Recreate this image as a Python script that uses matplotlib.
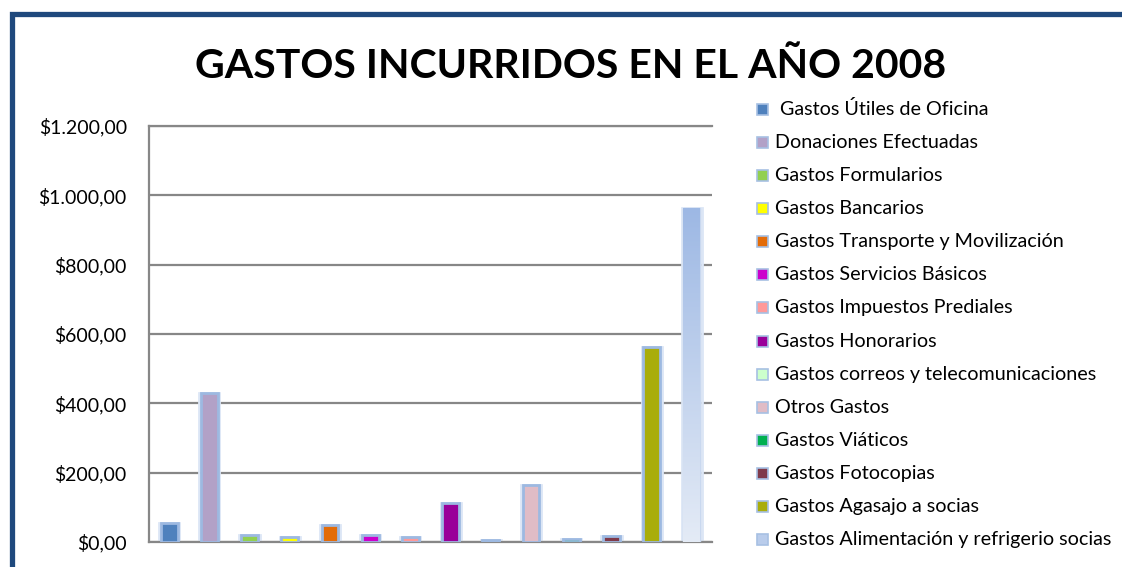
"""
Gastos incurridos en el año 2008 - barras por rubro
"""

import numpy as np
import matplotlib
matplotlib.use('Agg')
import matplotlib.pyplot as plt
from matplotlib.patches import Rectangle

# ----data-----
rubros = ['Gastos Útiles de Oficina', 'Donaciones Efectuadas', 'Gastos Formularios',
          'Gastos Bancarios', 'Gastos Transporte y Movilización',
          'Gastos Servicios Básicos', 'Gastos Impuestos Prediales',
          'Gastos Honorarios', 'Gastos correos y telecomunicaciones',
          'Otros Gastos', 'Gastos Viáticos', 'Gastos Fotocopias',
          'Gastos Agasajo a socias', 'Gastos Alimentación y refrigerio socias']
valores = [55, 430, 21, 14, 49, 20, 13, 112, 5, 163, 8, 16, 562, 963]
colores = ['#4F81BD', '#B2A1C7', '#92D050', '#FFFF00', '#E36C09', '#CC00CC',
           '#FF9999', '#990099', '#CCFFCC', '#E0BCC6', '#00B050', '#7F3A4A',
           '#A9AD0B', '#B9CCEB']
yticks = [0, 200, 400, 600, 800, 1000, 1200]
ytick_labels = ['$0,00', '$200,00', '$400,00', '$600,00', '$800,00',
                '$1.000,00', '$1.200,00']
titulo = 'GASTOS INCURRIDOS EN EL AÑO 2008'

plt.rcParams['font.family'] = ['Lato', 'DejaVu Sans']

W, H = 1122, 567
fig = plt.figure(figsize=(W / 100, H / 100), dpi=100)
ax = fig.add_axes([149 / W, 1 - 542 / H, (712 - 149) / W, (542 - 126) / H])

x = np.arange(len(valores))
edge = '#9DB9E1'
for i in range(len(valores)):
    # soft glow around the bar
    ax.bar(x[i], valores[i], width=0.5, color='none', edgecolor='#DCE6F5',
           linewidth=2.0, zorder=2)
    if i == len(valores) - 1:
        b = ax.bar(x[i], valores[i], width=0.42, color=colores[i],
                   edgecolor='#C9D8EF', linewidth=1.0, zorder=3)
        grad = np.linspace(0, 1, 256).reshape(-1, 1)
        cmap = matplotlib.colors.LinearSegmentedColormap.from_list(
            'g', ['#E4EBF6', '#9DB8E4'])
        im = ax.imshow(grad, cmap=cmap, aspect='auto', origin='lower',
                       extent=[x[i] - 0.21, x[i] + 0.21, 0, valores[i]],
                       zorder=3.5)
        im.set_clip_path(b.patches[0])
    else:
        ax.bar(x[i], valores[i], width=0.42, color=colores[i],
               edgecolor=edge, linewidth=2.0, zorder=3)

ax.set_xlim(-0.5, len(valores) - 0.5)
ax.set_ylim(0, 1200)
ax.set_yticks(yticks)
ax.set_yticklabels(ytick_labels, fontsize=14)
ax.set_xticks([])
ax.tick_params(axis='y', length=0, pad=16)
ax.yaxis.grid(True, color='#878787', linewidth=1.6, zorder=0)
ax.set_axisbelow(True)
for s in ['top', 'left', 'bottom']:
    ax.spines[s].set_color('#878787')
    ax.spines[s].set_linewidth(1.6)
ax.spines['right'].set_visible(False)

# ----title-----
fig.text(571 / W, 1 - 67 / H, titulo, ha='center', va='center',
         fontsize=29.5, fontweight='bold')

# ----legend (manual)-----
y0, dy = 109, 33.15
for i, (lab, c) in enumerate(zip(rubros, colores)):
    yc = y0 + i * dy
    fig.add_artist(Rectangle((757 / W, 1 - (yc + 5.5) / H), 11 / W, 11 / H,
                             transform=fig.transFigure, facecolor=c,
                             edgecolor='#A7C0E3', linewidth=1.2))
    tx = 780 if i == 0 else 775
    fig.text(tx / W, 1 - yc / H, lab, ha='left', va='center', fontsize=14.2)

# ----frame-----
fig.add_artist(Rectangle((11.5 / W, -0.1), 1.2, 1.1 - 13.5 / H,
                         transform=fig.transFigure, facecolor='none',
                         edgecolor='#1F497D', linewidth=3.8))

plt.savefig('out.png', dpi=100)
plt.close()
